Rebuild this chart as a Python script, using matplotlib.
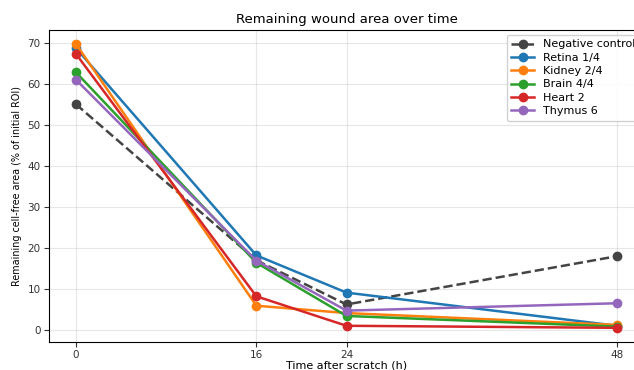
import matplotlib
matplotlib.use("Agg")
import matplotlib.pyplot as plt

# ---- data ----
hours = [0, 16, 24, 48]
neg_control = [55.1, 17.0, 6.2, 18.0]
retina_14 = [68.8, 18.2, 9.1, 1.0]
kidney_24 = [69.8, 5.9, 4.1, 1.2]
brain_44 = [62.9, 16.4, 3.4, 0.8]
heart_2 = [67.4, 8.2, 1.0, 0.5]
thymus_6 = [61.1, 16.9, 4.7, 6.5]

series = [
    ("Retina 1/4", retina_14, "#1f77b4"),
    ("Kidney 2/4", kidney_24, "#ff7f0e"),
    ("Brain 4/4", brain_44, "#2ca02c"),
    ("Heart 2", heart_2, "#d62728"),
    ("Thymus 6", thymus_6, "#9467bd"),
]

fig = plt.figure(figsize=(6.34, 3.70), dpi=100)
# axes run slightly past the right edge, like the cropped original
ax = fig.add_axes([49 / 634, 28 / 370, 595 / 634, 312 / 370])

ax.plot(hours, neg_control, "--o", color="#444444", lw=1.8, ms=6,
        label="Negative control")
for name, vals, col in series:
    ax.plot(hours, vals, "-o", color=col, lw=1.8, ms=6, label=name)

ax.set_xticks(hours)
ax.tick_params(labelsize=7.5, colors="#333333", pad=2.5)
ax.set_xlabel("Time after scratch (h)", fontsize=8, labelpad=0)
ax.set_ylabel("Remaining cell-free area (% of initial ROI)", fontsize=6.9, labelpad=4)
ax.set_title("Remaining wound area over time", fontsize=9.5, pad=5)
ax.grid(True, alpha=0.3)
ax.spines["right"].set_visible(False)
ax.legend(loc="upper left", bbox_to_anchor=(507 / 634, 1 - 35 / 370),
          bbox_transform=fig.transFigure, borderaxespad=0,
          fontsize=8, labelspacing=0.3, framealpha=0.9)

fig.savefig("out.png", dpi=100)
